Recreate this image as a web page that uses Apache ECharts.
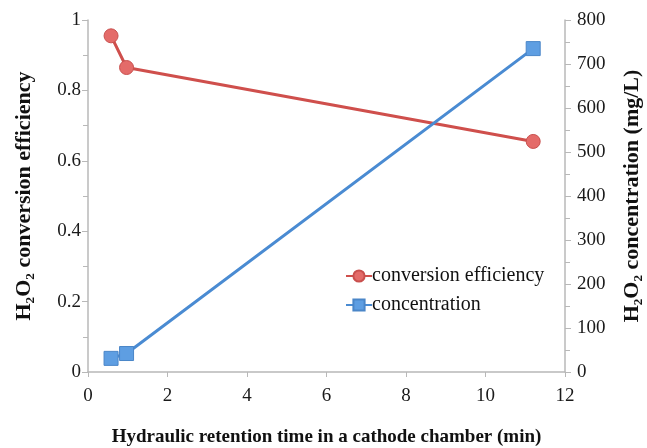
<!DOCTYPE html>
<html>
<head>
<meta charset="utf-8">
<script src="https://cdn.jsdelivr.net/npm/echarts@6/dist/echarts.min.js"></script>
<style>html,body{margin:0;padding:0;background:#fff}#c{width:647px;height:448px}</style>
</head>
<body>
<div id="c"></div>
<script>
const effX = [0.58, 0.97, 11.2];
const effY = [0.955, 0.865, 0.655];
const concX = [0.58, 0.97, 11.2];
const concY = [31, 42, 735];
const seriesNames = ['conversion efficiency', 'concentration'];
const xTitle = 'Hydraulic retention time in a cathode chamber (min)';
const yLeftTitle = 'H₂O₂ conversion efficiency';
const yRightTitle = 'H₂O₂ concentration (mg/L)';

const font = '"Liberation Serif", "Times New Roman", serif';
const axisGray = '#b8b8b8';
const chart = echarts.init(document.getElementById('c'), null, {renderer: 'canvas'});
const pair = (xs, ys) => xs.map((x, i) => [x, ys[i]]);
chart.setOption({
  animation: false,
  backgroundColor: '#fff',
  textStyle: {fontFamily: font},
  grid: {left: 88, right: 82, top: 20, bottom: 76, containLabel: false, outerBoundsMode: 'none'},
  legend: {
    orient: 'vertical', left: 340, top: 261, itemGap: 9,
    itemWidth: 26, itemHeight: 14,
    textStyle: {fontFamily: font, fontSize: 20, color: '#111', padding: [0, 0, 0, -5]},
    data: seriesNames
  },
  xAxis: {
    type: 'value', min: 0, max: 12, interval: 2,
    name: xTitle, nameLocation: 'middle', nameGap: 56,
    nameTextStyle: {fontFamily: font, fontSize: 19, fontWeight: 'bold', color: '#111'},
    axisLine: {lineStyle: {color: axisGray, width: 1.5}},
    axisTick: {show: true, length: 5, lineStyle: {color: axisGray}},
    axisLabel: {fontFamily: font, fontSize: 19, color: '#1a1a1a', margin: 15},
    splitLine: {show: false}
  },
  yAxis: [{
    type: 'value', min: 0, max: 1, interval: 0.2,
    name: yLeftTitle, nameLocation: 'middle', nameGap: 53, nameRotate: 90,
    nameTextStyle: {fontFamily: font, fontSize: 22, fontWeight: 'bold', color: '#111'},
    axisLine: {show: true, lineStyle: {color: axisGray, width: 1.5}},
    axisTick: {show: true, length: 6, lineStyle: {color: axisGray}},
    minorTick: {show: true, splitNumber: 2, length: 5, lineStyle: {color: axisGray}},
    axisLabel: {fontFamily: font, fontSize: 19, color: '#1a1a1a', margin: 7},
    splitLine: {show: false}
  }, {
    type: 'value', min: 0, max: 800, interval: 100, position: 'right',
    name: yRightTitle, nameLocation: 'middle', nameGap: 56, nameRotate: 90,
    nameTextStyle: {fontFamily: font, fontSize: 22, fontWeight: 'bold', color: '#111'},
    axisLine: {show: true, lineStyle: {color: axisGray, width: 1.5}},
    axisTick: {show: true, length: 6, lineStyle: {color: axisGray}},
    minorTick: {show: true, splitNumber: 2, length: 5, lineStyle: {color: axisGray}},
    axisLabel: {fontFamily: font, fontSize: 19, color: '#1a1a1a', margin: 12},
    splitLine: {show: false}
  }],
  series: [{
    name: seriesNames[0], type: 'line', yAxisIndex: 0,
    data: pair(effX, effY),
    symbol: 'circle', symbolSize: 14,
    lineStyle: {color: '#cf4f4c', width: 3},
    itemStyle: {color: '#e46b69', borderColor: '#c9504e', borderWidth: 1}
  }, {
    name: seriesNames[1], type: 'line', yAxisIndex: 1,
    data: pair(concX, concY),
    symbol: 'rect', symbolSize: 14,
    lineStyle: {color: '#4a8bd2', width: 3},
    itemStyle: {color: '#5e9ee2', borderColor: '#4a86c8', borderWidth: 1}
  }]
});
</script>
</body>
</html>
